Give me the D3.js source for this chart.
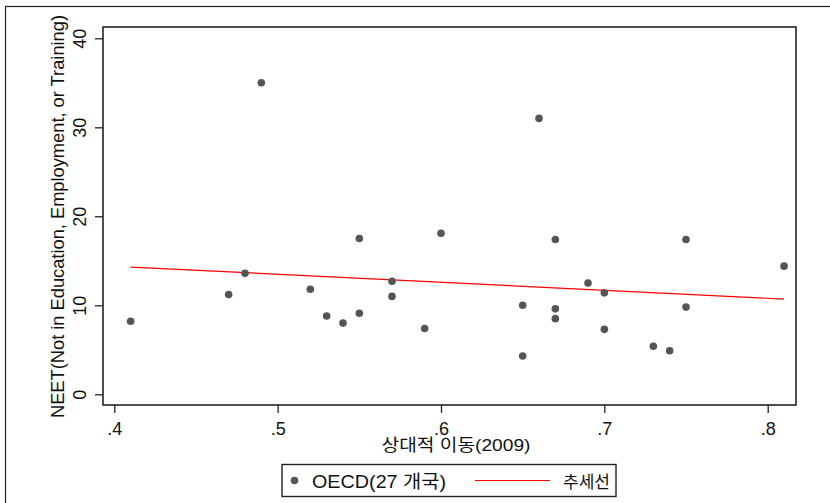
<!DOCTYPE html>
<meta charset="utf-8">
<style>
  body { margin: 0; background: #fff; }
  text { font-family: "Liberation Sans", Arial, "Noto Sans CJK KR", sans-serif; fill: #111; }
</style>
<body>
<script src="https://cdn.jsdelivr.net/npm/d3@7"></script>
<script>

    var width = 830,
        height = 503;

    // 상대적 이동(2009) vs NEET, OECD 27개국
    var mobility = [0.41, 0.47, 0.48, 0.49, 0.52, 0.53, 0.54, 0.55, 0.55,
                    0.57, 0.57, 0.59, 0.60, 0.65, 0.65, 0.66, 0.67, 0.67,
                    0.67, 0.69, 0.70, 0.70, 0.73, 0.74, 0.75, 0.75, 0.81];
    var neet = [8.2, 11.2, 13.6, 35.0, 11.8, 8.8, 8.0, 17.5, 9.1,
                12.7, 11.0, 7.4, 18.1, 10.0, 4.3, 31.0, 17.4, 9.6,
                8.5, 12.5, 11.4, 7.3, 5.4, 4.9, 17.4, 9.8, 14.4];

    // 추세선 endpoints
    var trendX = [0.41, 0.81];
    var trendY = [14.3, 10.7];

    var xTicks = [0.4, 0.5, 0.6, 0.7, 0.8];
    var yTicks = [0, 10, 20, 30, 40];

    var plot = {left: 103, top: 27, right: 796, bottom: 405};

    var x = d3.scaleLinear().domain([0.4, 0.8]).range([114.3, 767.7]);
    var y = d3.scaleLinear().domain([0, 40]).range([394.3, 38.3]);

    var svg = d3.select("body").append("svg")
            .attr("width", width)
            .attr("height", height);

    // outer frame
    svg.append("rect")
            .attr("x", 5.5).attr("y", 6.5)
            .attr("width", width).attr("height", height)
            .attr("fill", "none").attr("stroke", "#222").attr("stroke-width", 1.2);

    // plot frame
    svg.append("rect")
            .attr("x", plot.left).attr("y", plot.top)
            .attr("width", plot.right - plot.left).attr("height", plot.bottom - plot.top)
            .attr("fill", "none").attr("stroke", "#222").attr("stroke-width", 1.6);

    // y axis (labels rotated, like Stata)
    var yAxis = svg.append("g")
            .attr("transform", "translate(" + plot.left + ",0)")
            .call(d3.axisLeft(y).tickValues(yTicks).tickSize(8).tickFormat(d3.format("d")));
    yAxis.select(".domain").remove();
    yAxis.selectAll("line").attr("stroke", "#222").attr("stroke-width", 1.3);
    yAxis.selectAll("text")
            .attr("font-size", 18)
            .attr("fill", "#111")
            .attr("x", 0).attr("y", 0).attr("dy", "0")
            .attr("text-anchor", "middle")
            .attr("transform", "translate(-17,0) rotate(-90)");

    // x axis
    var xAxis = svg.append("g")
            .attr("transform", "translate(0," + plot.bottom + ")")
            .call(d3.axisBottom(x).tickValues(xTicks).tickSize(8)
                .tickFormat(function(d) { return d3.format(".1f")(d).replace(/^0/, ""); }));
    xAxis.select(".domain").remove();
    xAxis.selectAll("line").attr("stroke", "#222").attr("stroke-width", 1.3);
    xAxis.selectAll("text")
            .attr("font-size", 18)
            .attr("fill", "#111")
            .attr("dy", "0").attr("y", 30);

    // axis titles
    svg.append("text")
            .attr("transform", "translate(64,216.5) rotate(-90)")
            .attr("text-anchor", "middle")
            .attr("font-size", 18)
            .attr("textLength", 403).attr("lengthAdjust", "spacingAndGlyphs")
            .text("NEET(Not in Education, Employment, or Training)");

    svg.append("text")
            .attr("x", 456).attr("y", 451)
            .attr("text-anchor", "middle")
            .attr("font-size", 17)
            .attr("textLength", 149).attr("lengthAdjust", "spacingAndGlyphs")
            .text("상대적 이동(2009)");

    // trend line
    svg.append("line")
            .attr("x1", x(trendX[0])).attr("y1", y(trendY[0]))
            .attr("x2", x(trendX[1])).attr("y2", y(trendY[1]))
            .attr("stroke", "#f00").attr("stroke-width", 1.2);

    // points
    svg.append("g").selectAll("circle")
            .data(mobility)
            .enter().append("circle")
            .attr("cx", function(d) { return x(d); })
            .attr("cy", function(d, i) { return y(neet[i]); })
            .attr("r", 3.8)
            .attr("fill", "#555");

    // legend
    var legend = svg.append("g");
    legend.append("rect")
            .attr("x", 282).attr("y", 464.5)
            .attr("width", 334).attr("height", 32)
            .attr("fill", "#fff").attr("stroke", "#222").attr("stroke-width", 1.4);
    legend.append("circle")
            .attr("cx", 294.5).attr("cy", 480.5).attr("r", 3.8).attr("fill", "#555");
    legend.append("text")
            .attr("x", 312).attr("y", 487.5)
            .attr("font-size", 18)
            .attr("textLength", 134).attr("lengthAdjust", "spacingAndGlyphs")
            .text("OECD(27 개국)");
    legend.append("line")
            .attr("x1", 475).attr("x2", 550).attr("y1", 480.5).attr("y2", 480.5)
            .attr("stroke", "#f00").attr("stroke-width", 1.2);
    legend.append("text")
            .attr("x", 563).attr("y", 487.5)
            .attr("font-size", 17)
            .attr("textLength", 47).attr("lengthAdjust", "spacingAndGlyphs")
            .text("추세선");

</script>
